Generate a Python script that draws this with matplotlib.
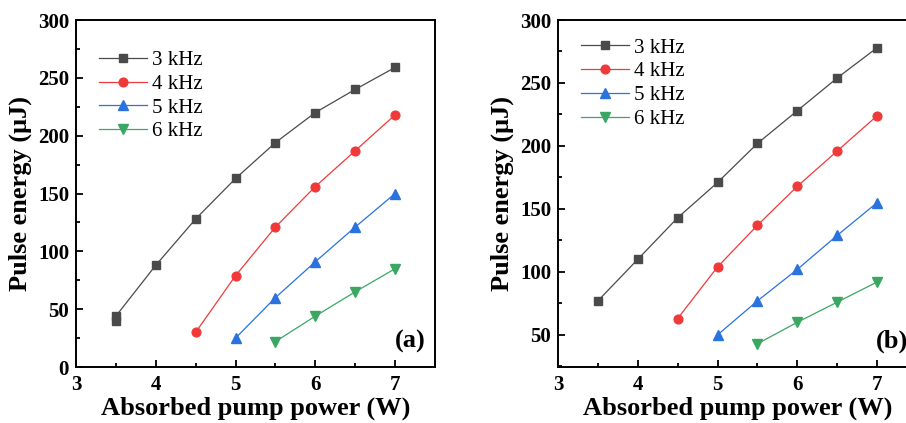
import matplotlib.pyplot as plt
from matplotlib.ticker import MultipleLocator

plt.switch_backend('Agg')
plt.rcParams['font.family'] = ['Liberation Serif', 'DejaVu Serif']

# panel (a)
a_x3 = [3.5, 3.5, 4, 4.5, 5, 5.5, 6, 6.5, 7]
a_y3 = [40, 44, 88, 128, 163, 194, 220, 240, 259]
a_x4 = [4.5, 5, 5.5, 6, 6.5, 7]
a_y4 = [30, 79, 121, 156, 187, 218]
a_x5 = [5, 5.5, 6, 6.5, 7]
a_y5 = [25, 60, 91, 121, 150]
a_x6 = [5.5, 6, 6.5, 7]
a_y6 = [22, 44, 65, 85]

# panel (b)
b_x3 = [3.5, 4, 4.5, 5, 5.5, 6, 6.5, 7]
b_y3 = [77, 110, 143, 171, 202, 228, 254, 278]
b_x4 = [4.5, 5, 5.5, 6, 6.5, 7]
b_y4 = [63, 104, 137, 168, 196, 224]
b_x5 = [5, 5.5, 6, 6.5, 7]
b_y5 = [50, 77, 102, 129, 155]
b_x6 = [5.5, 6, 6.5, 7]
b_y6 = [43, 60, 76, 92]

labels = ['3 kHz', '4 kHz', '5 kHz', '6 kHz']
colors = ['#4a4a4a', '#f03a3a', '#2a72de', '#3aa862']
markers = ['s', 'o', '^', 'v']
msizes = [6, 6.3, 6.8, 6.8]

fig = plt.figure(figsize=(9.06, 4.23), dpi=100)
W, H = 906, 423
ax_a = fig.add_axes([76 / W, (H - 367) / H, 359 / W, 347 / H])
ax_b = fig.add_axes([558 / W, (H - 367) / H, 359 / W, 347 / H])


def draw(ax, series, ylim, tag, leg_y):
    for (x, y), lab, c, m, ms in zip(series, labels, colors, markers, msizes):
        ax.plot(x, y, color=c, lw=0.9, marker=m, ms=ms, mec=c, mfc=c, label=lab)
    ax.set_xlim(3, 7.5)
    ax.set_ylim(*ylim)
    ax.xaxis.set_major_locator(MultipleLocator(1))
    ax.xaxis.set_minor_locator(MultipleLocator(0.5))
    ax.yaxis.set_major_locator(MultipleLocator(50))
    ax.yaxis.set_minor_locator(MultipleLocator(25))
    ax.tick_params(which='both', direction='in', top=False, right=False,
                   labelsize=15, width=1.3)
    ax.tick_params(which='major', length=5)
    ax.tick_params(which='minor', length=3)
    ax.tick_params(axis='x', pad=6)
    ax.tick_params(axis='y', pad=5)
    for lbl in ax.get_xticklabels() + ax.get_yticklabels():
        lbl.set_fontweight('bold')
    for s in ax.spines.values():
        s.set_linewidth(1.4)
    ax.set_xlabel('Absorbed pump power (W)', fontsize=19, fontweight='bold', labelpad=1)
    ax.set_ylabel('Pulse energy (μJ)', fontsize=19, fontweight='bold', labelpad=4)
    ax.legend(loc='upper left', frameon=False, fontsize=15, handlelength=2.3,
              handletextpad=0.25, labelspacing=0.2, borderpad=0, borderaxespad=0,
              bbox_to_anchor=(0.063, leg_y))
    ax.text(0.975, 0.04, tag, transform=ax.transAxes, fontsize=19,
            fontweight='bold', ha='right', va='bottom')


draw(ax_a, [(a_x3, a_y3), (a_x4, a_y4), (a_x5, a_y5), (a_x6, a_y6)],
     (0, 300), '(a)', 0.912)
draw(ax_b, [(b_x3, b_y3), (b_x4, b_y4), (b_x5, b_y5), (b_x6, b_y6)],
     (24.5, 300), '(b)', 0.948)

fig.savefig('out.png', dpi=100)
